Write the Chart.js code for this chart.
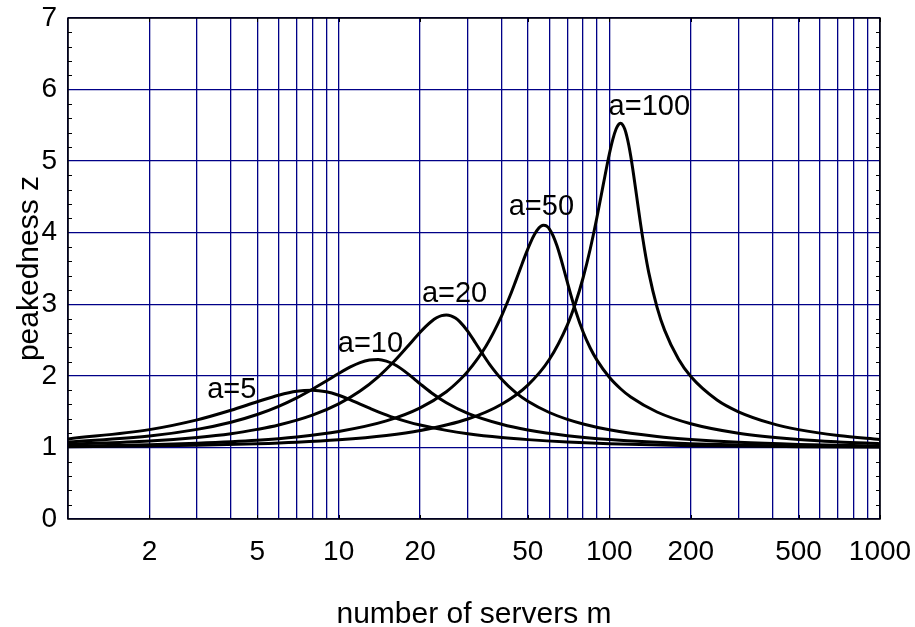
<!DOCTYPE html>
<html>
<head>
<meta charset="utf-8">
<style>
  html, body { margin: 0; padding: 0; background: #fff; }
  #wrap { width: 915px; height: 627px; }
</style>
<script src="https://cdn.jsdelivr.net/npm/chart.js@4.4.1/dist/chart.umd.min.js"></script>
</head>
<body>
<div id="wrap"><canvas id="chart" width="915" height="627"></canvas></div>
<script>
// peakedness z of overflow traffic vs number of servers m, one curve per offered traffic a
const M_A5 = [1, 2, 3, 4, 5, 6, 7, 8, 9, 10, 11, 12, 13, 14, 16, 18, 20, 25, 30, 40, 50, 70, 100, 200, 500, 1000];
const Z_A5 = [1.119, 1.249, 1.385, 1.519, 1.638, 1.730, 1.785, 1.799, 1.777, 1.729, 1.669, 1.606, 1.549, 1.498, 1.416, 1.357, 1.313, 1.238, 1.192, 1.139, 1.109, 1.076, 1.052, 1.025, 1.010, 1.005];

const M_A10 = [1, 2, 3, 4, 5, 6, 7, 8, 9, 10, 11, 12, 13, 14, 15, 16, 17, 18, 19, 20, 22, 25, 30, 40, 50, 70, 100, 200, 500, 1000];
const Z_A10 = [1.076, 1.160, 1.252, 1.352, 1.460, 1.575, 1.693, 1.813, 1.928, 2.033, 2.121, 2.185, 2.221, 2.228, 2.206, 2.162, 2.101, 2.031, 1.959, 1.889, 1.765, 1.625, 1.476, 1.323, 1.244, 1.164, 1.110, 1.052, 1.020, 1.010];

const M_A20 = [1, 2, 3, 4, 5, 6, 8, 10, 12, 14, 16, 18, 20, 21, 22, 23, 24, 25, 26, 27, 28, 30, 32, 34, 36, 40, 45, 50, 60, 70, 80, 100, 150, 200, 300, 500, 1000];
const Z_A20 = [1.043, 1.090, 1.140, 1.192, 1.252, 1.313, 1.451, 1.609, 1.788, 1.987, 2.200, 2.414, 2.609, 2.692, 2.760, 2.811, 2.842, 2.851, 2.839, 2.807, 2.757, 2.622, 2.463, 2.307, 2.168, 1.952, 1.769, 1.645, 1.488, 1.392, 1.328, 1.247, 1.153, 1.111, 1.071, 1.042, 1.020];

const M_A50 = [1, 2, 3, 5, 7, 10, 15, 20, 25, 28, 30, 35, 40, 43, 45, 47, 49, 51, 53, 55, 56, 57, 58, 59, 60, 62, 64, 66, 68, 70, 72, 75, 80, 85, 90, 100, 110, 120, 150, 200, 300, 500, 700, 1000];
const Z_A50 = [1.019, 1.038, 1.059, 1.101, 1.147, 1.223, 1.371, 1.553, 1.779, 1.942, 2.062, 2.414, 2.839, 3.122, 3.317, 3.509, 3.691, 3.852, 3.981, 4.068, 4.093, 4.104, 4.101, 4.085, 4.055, 3.957, 3.820, 3.657, 3.481, 3.305, 3.137, 2.912, 2.612, 2.389, 2.220, 1.980, 1.820, 1.704, 1.495, 1.331, 1.199, 1.111, 1.077, 1.053];

const M_A100 = [1, 2, 3, 5, 7, 10, 15, 20, 30, 40, 50, 60, 70, 75, 80, 85, 90, 95, 100, 103, 106, 108, 110, 112, 114, 116, 118, 120, 123, 126, 130, 135, 140, 150, 160, 180, 200, 250, 300, 400, 500, 700, 1000];
const Z_A100 = [1.010, 1.021, 1.030, 1.051, 1.072, 1.106, 1.167, 1.236, 1.397, 1.603, 1.871, 2.228, 2.713, 3.017, 3.371, 3.773, 4.216, 4.675, 5.099, 5.305, 5.452, 5.509, 5.528, 5.508, 5.448, 5.351, 5.222, 5.067, 4.804, 4.525, 4.162, 3.763, 3.436, 2.961, 2.639, 2.235, 1.990, 1.662, 1.498, 1.332, 1.249, 1.166, 1.111];

const CURVE_LABELS = ['a=5', 'a=10', 'a=20', 'a=50', 'a=100'];
const LABEL_M = [4.03, 13.1, 26.8, 56.1, 140.5];
const LABEL_Z = [1.69, 2.33, 3.03, 4.25, 5.64];

const X_GRID = [1, 2, 3, 4, 5, 6, 7, 8, 9, 10, 20, 30, 40, 50, 60, 70, 80, 90, 100, 200, 300, 400, 500, 600, 700, 800, 900, 1000];
const X_LABELS = [2, 5, 10, 20, 50, 100, 200, 500, 1000];

const FONT = '"Liberation Sans", Arial, Helvetica, sans-serif';
const GRID_BLUE = 'rgb(0,0,135)';

function pts(ms, zs) {
  return ms.map((m, i) => ({ x: m, y: zs[i] }));
}

function curve(label, ms, zs) {
  return {
    label,
    data: pts(ms, zs),
    borderColor: '#000',
    borderWidth: 3,
    pointRadius: 0,
    fill: false,
    cubicInterpolationMode: 'monotone'
  };
}

const decorations = {
  id: 'decorations',
  afterDatasetsDraw(chart) {
    const { ctx, chartArea: area, scales: { x, y } } = chart;
    ctx.save();
    ctx.strokeStyle = '#000';
    ctx.lineWidth = 1;
    ctx.beginPath();
    for (let i = 1; i < 35; i++) {
      if (i % 5 === 0) continue;
      const py = Math.round(y.getPixelForValue(i / 5)) + 0.5;
      ctx.moveTo(area.left, py); ctx.lineTo(area.left + 4, py);
      ctx.moveTo(area.right, py); ctx.lineTo(area.right - 4, py);
    }
    X_LABELS.forEach(v => {
      const px = Math.round(x.getPixelForValue(v)) + 0.5;
      ctx.moveTo(px, area.bottom); ctx.lineTo(px, area.bottom - 4);
      ctx.moveTo(px, area.top); ctx.lineTo(px, area.top + 4);
    });
    ctx.stroke();

    ctx.lineWidth = 1.5;
    ctx.strokeRect(area.left, area.top, area.right - area.left, area.bottom - area.top);

    ctx.fillStyle = '#000';
    ctx.font = '29px ' + FONT;
    ctx.textAlign = 'center';
    ctx.textBaseline = 'alphabetic';
    CURVE_LABELS.forEach((t, i) => {
      ctx.fillText(t, x.getPixelForValue(LABEL_M[i]), y.getPixelForValue(LABEL_Z[i]));
    });
    ctx.restore();
  }
};

new Chart(document.getElementById('chart'), {
  type: 'line',
  data: {
    datasets: [
      curve('a=5', M_A5, Z_A5),
      curve('a=10', M_A10, Z_A10),
      curve('a=20', M_A20, Z_A20),
      curve('a=50', M_A50, Z_A50),
      curve('a=100', M_A100, Z_A100)
    ]
  },
  options: {
    responsive: false,
    animation: false,
    devicePixelRatio: 1,
    layout: { padding: { top: 18, right: 35, bottom: 0, left: 0 } },
    plugins: { legend: { display: false }, tooltip: { enabled: false } },
    scales: {
      x: {
        type: 'logarithmic',
        min: 1,
        max: 1000,
        afterBuildTicks(scale) {
          scale.ticks = X_GRID.map(v => ({ value: v }));
        },
        afterFit(scale) {
          scale.height = 108;
          scale.paddingLeft = 0;
          scale.paddingRight = 0;
        },
        ticks: {
          autoSkip: false,
          maxRotation: 0,
          padding: 16,
          color: '#000',
          font: { family: FONT, size: 28 },
          callback(value) {
            return X_LABELS.includes(value) ? String(value) : '';
          }
        },
        grid: { color: GRID_BLUE, lineWidth: 1.3, drawTicks: false },
        border: { display: false },
        title: {
          display: true,
          text: 'number of servers m',
          color: '#000',
          font: { family: FONT, size: 30, lineHeight: 0.8 },
          padding: { top: 0, bottom: 0 }
        }
      },
      y: {
        min: 0,
        max: 7,
        afterFit(scale) {
          scale.width = 68;
          scale.paddingTop = 0;
          scale.paddingBottom = 0;
        },
        ticks: {
          stepSize: 1,
          padding: 11,
          color: '#000',
          font: { family: FONT, size: 28 }
        },
        grid: { color: GRID_BLUE, lineWidth: 1.3, drawTicks: false },
        border: { display: false },
        title: {
          display: true,
          text: 'peakedness z',
          color: '#000',
          font: { family: FONT, size: 30, lineHeight: 0.8 },
          padding: { top: 18, bottom: 0 }
        }
      }
    }
  },
  plugins: [decorations]
});
</script>
</body>
</html>
